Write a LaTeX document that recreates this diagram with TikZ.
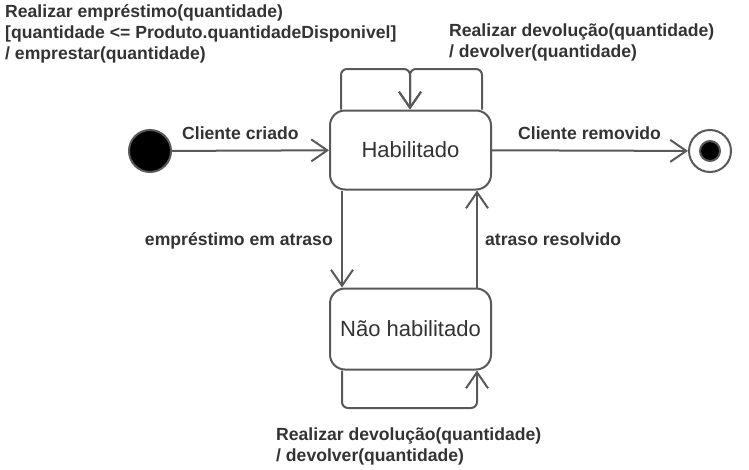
\documentclass[tikz,border=0pt]{standalone}
\usepackage{fontspec}
\setmainfont{Liberation Sans}
\usetikzlibrary{arrows.meta,calc}
\definecolor{ln}{HTML}{595959}
\definecolor{tx}{HTML}{333333}
\tikzset{
  lbl/.style={font=\bfseries\fontsize{17.6}{21}\selectfont, text=tx, inner sep=0pt, align=left},
  statebox/.style={draw=ln, line width=2pt, rounded corners=15pt, minimum width=161pt, fill=white,
    font=\fontsize{22}{26}\selectfont, text=tx},
  arr/.style={draw=ln, line width=2pt, -{Straight Barb[length=16pt,width=22pt,line width=2pt]}},
  ln/.style={draw=ln, line width=2pt}
}
\begin{document}
\begin{tikzpicture}[x=1pt,y=-1pt]
\useasboundingbox (0,0) rectangle (749,469);
\node[circle, draw=ln, line width=2pt, fill=black, minimum size=42pt, inner sep=0pt] (init) at (150,151) {};
\node[statebox, minimum height=79pt] (hab) at (410.5,150) {Habilitado};
\node[statebox, minimum height=81pt] (nh) at (410.5,329) {Não habilitado};
\node[circle, draw=ln, line width=2pt, fill=white, minimum size=42pt, inner sep=0pt] (fin) at (710,151) {};
\node[circle, draw=ln, line width=2pt, fill=black, minimum size=20pt, inner sep=0pt] (finin) at (fin) {};
\coordinate (lt) at (341,69);
\coordinate (rt) at (482,69);
\coordinate (mt) at (410,69);
\coordinate (lb) at (342,408);
\coordinate (rb) at (477,408);
% connectors
\draw[arr] (init) -- (hab);
\draw[arr] (hab) -- (fin);
\draw[arr, rounded corners=6pt] (hab.north -| lt) -- (lt) -- (mt) -- (hab.north -| mt);
\draw[arr, rounded corners=6pt] (hab.north -| rt) -- (rt) -- (mt) -- (hab.north -| mt);
\draw[arr] (hab.south -| lb) -- (nh.north -| lb);
\draw[arr] (nh.north -| rb) -- (hab.south -| rb);
\draw[arr, rounded corners=6pt] (nh.south -| lb) -- (lb) -- (rb) -- (nh.south -| rb);
% labels
\node[lbl, anchor=north west] (l1) at (5,4.5) {Realizar empréstimo(quantidade)\\ {[}quantidade <= Produto.quantidadeDisponivel{]}\\ / emprestar(quantidade)};
\node[lbl, anchor=north west] (l2) at (449,24) {Realizar devolução(quantidade)\\ / devolver(quantidade)};
\node[lbl, anchor=north west] (l3) at (276,428) {Realizar devolução(quantidade)\\ / devolver(quantidade)};
\node[lbl, anchor=base west] (l4) at (182,139) {Cliente criado};
\node[lbl, anchor=base west] (l5) at (518,139) {Cliente removido};
\node[lbl, anchor=base east] (l6) at (333,245) {empréstimo em atraso};
\node[lbl, anchor=base west] (l7) at (485,245) {atraso resolvido};
\end{tikzpicture}
\end{document}
